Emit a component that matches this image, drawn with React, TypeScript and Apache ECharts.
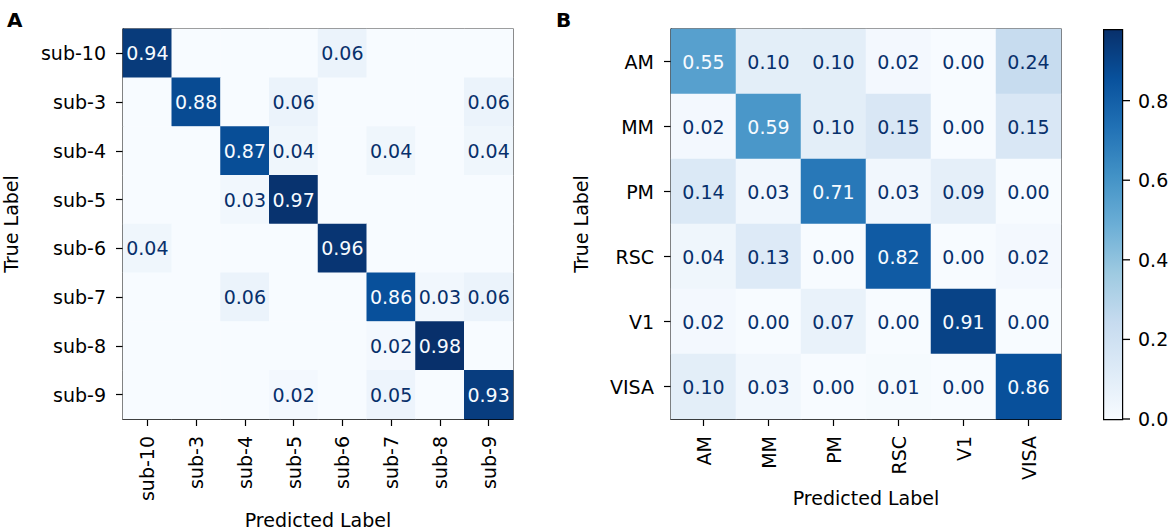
import React, { useEffect, useRef } from "react";
import * as echarts from "echarts";

const catsA = ["sub-10", "sub-3", "sub-4", "sub-5", "sub-6", "sub-7", "sub-8", "sub-9"];
const matA = [
  [0.94, 0, 0, 0, 0.06, 0, 0, 0],
  [0, 0.88, 0, 0.06, 0, 0, 0, 0.06],
  [0, 0, 0.87, 0.04, 0, 0.04, 0, 0.04],
  [0, 0, 0.03, 0.97, 0, 0, 0, 0],
  [0.04, 0, 0, 0, 0.96, 0, 0, 0],
  [0, 0, 0.06, 0, 0, 0.86, 0.03, 0.06],
  [0, 0, 0, 0, 0, 0.02, 0.98, 0],
  [0, 0, 0, 0.02, 0, 0.05, 0, 0.93],
];
const catsB = ["AM", "MM", "PM", "RSC", "V1", "VISA"];
const matB = [
  [0.55, 0.1, 0.1, 0.02, 0.0, 0.24],
  [0.02, 0.59, 0.1, 0.15, 0.0, 0.15],
  [0.14, 0.03, 0.71, 0.03, 0.09, 0.0],
  [0.04, 0.13, 0.0, 0.82, 0.0, 0.02],
  [0.02, 0.0, 0.07, 0.0, 0.91, 0.0],
  [0.1, 0.03, 0.0, 0.01, 0.0, 0.86],
];
const cbarTicks = [0, 0.2, 0.4, 0.6, 0.8];
const vMin = 0;
const vMax = 0.98;

const BLUES = ["#f7fbff", "#deebf7", "#c6dbef", "#9ecae1", "#6baed6", "#4292c6", "#2171b5", "#08519c", "#08306b"];
const FONT = "DejaVu Sans";
const FS = 19;

function buildData(mat: number[][], hideZero: boolean) {
  const out: any[] = [];
  const thresh = (vMin + vMax) / 2;
  mat.forEach((row, r) =>
    row.forEach((v, c) => {
      out.push({
        value: [c, r, v],
        label: {
          show: !(hideZero && v === 0),
          color: v > thresh ? BLUES[0] : BLUES[8],
        },
      });
    })
  );
  return out;
}

export default function App() {
  const ref = useRef<HTMLDivElement>(null);
  useEffect(() => {
    document.body.style.margin = "0";
    const chart = echarts.init(ref.current!, null, { renderer: "svg" });
    const axisCommonX = (cats: string[], grid: number, gap: number) => ({
      type: "category",
      gridIndex: grid,
      data: cats,
      position: "bottom",
      name: "Predicted Label",
      nameLocation: "middle",
      nameGap: gap,
      nameTextStyle: { fontFamily: FONT, fontSize: FS, color: "#000" },
      axisLine: { show: true, lineStyle: { color: "#000", width: 1.2 } },
      axisTick: { show: true, alignWithLabel: true, length: 7, lineStyle: { color: "#000", width: 1.2 } },
      axisLabel: { rotate: 90, margin: 17, fontFamily: FONT, fontSize: FS, color: "#000", interval: 0 },
      splitLine: { show: false },
      splitArea: { show: false },
    });
    const axisCommonY = (cats: string[], grid: number, gap: number) => ({
      type: "category",
      gridIndex: grid,
      data: cats,
      inverse: true,
      name: "True Label",
      nameLocation: "middle",
      nameGap: gap,
      nameRotate: 90,
      nameTextStyle: { fontFamily: FONT, fontSize: FS, color: "#000" },
      axisLine: { show: true, lineStyle: { color: "#000", width: 1.2 } },
      axisTick: { show: true, alignWithLabel: true, length: 7, lineStyle: { color: "#000", width: 1.2 } },
      axisLabel: { margin: 17, fontFamily: FONT, fontSize: FS, color: "#000", interval: 0 },
      splitLine: { show: false },
      splitArea: { show: false },
    });
    const labelStyle = {
      fontFamily: FONT,
      fontSize: FS,
      formatter: (p: any) => p.value[2].toFixed(2),
    };
    const stops = BLUES.map((c, i) => ({ offset: i / (BLUES.length - 1), color: BLUES[BLUES.length - 1 - i] }));
    const gridCommon = { show: true, borderColor: "#000", borderWidth: 1.2, backgroundColor: "transparent", outerBoundsMode: "none", containLabel: false };
    const baseGraphic: any[] = [
      {
        type: "rect",
        left: 1103,
        top: 29,
        shape: { width: 19, height: 390 },
        style: {
          fill: { type: "linear", x: 0, y: 0, x2: 0, y2: 1, colorStops: stops },
          stroke: "#000",
          lineWidth: 1.2,
        },
        z: 1,
      },
      { type: "text", left: 7, top: 10, style: { text: "A", font: `bold 20px "${FONT}"`, fill: "#000" } },
      { type: "text", left: 556, top: 10, style: { text: "B", font: `bold 20px "${FONT}"`, fill: "#000" } },
    ];
    chart.setOption({
      animation: false,
      backgroundColor: "#fff",
      grid: [
        { left: 123, top: 29, width: 390, height: 390, ...gridCommon },
        { left: 671, top: 29, width: 390, height: 390, ...gridCommon },
        { left: 1103, top: 29, width: 19, height: 390, show: false, outerBoundsMode: "none", containLabel: false },
      ],
      xAxis: [
        axisCommonX(catsA, 0, 91),
        axisCommonX(catsB, 1, 69),
        { type: "value", gridIndex: 2, show: false, min: 0, max: 1 },
      ],
      yAxis: [
        axisCommonY(catsA, 0, 103),
        axisCommonY(catsB, 1, 81),
        {
          type: "value",
          gridIndex: 2,
          position: "right",
          min: vMin,
          max: vMax,
          axisLine: { show: false, onZero: false },
          axisTick: { show: false },
          axisLabel: {
            customValues: cbarTicks,
            margin: 16,
            fontFamily: FONT,
            fontSize: FS,
            color: "#000",
            formatter: (v: number) => v.toFixed(1),
          },
          splitLine: { show: false },
        },
      ],
      visualMap: [
        { type: "continuous", show: false, min: vMin, max: vMax, dimension: 2, seriesIndex: [0, 1], inRange: { color: BLUES } },
      ],
      graphic: baseGraphic,
      series: [
        {
          type: "heatmap",
          xAxisIndex: 0,
          yAxisIndex: 0,
          data: buildData(matA, true),
          label: { show: true, ...labelStyle },
          itemStyle: { borderWidth: 0 },
          emphasis: { disabled: true },
        },
        {
          type: "heatmap",
          xAxisIndex: 1,
          yAxisIndex: 1,
          data: buildData(matB, false),
          label: { show: true, ...labelStyle },
          itemStyle: { borderWidth: 0 },
          emphasis: { disabled: true },
        },
      ],
    });
    // colorbar tick marks, placed through the colorbar axis scale
    const xRight = chart.convertToPixel({ xAxisIndex: 2 } as any, 1) as number;
    const tickLines = cbarTicks.map((v) => {
      const y = chart.convertToPixel({ yAxisIndex: 2 } as any, v) as number;
      return {
        type: "line",
        shape: { x1: xRight, y1: y, x2: xRight + 8, y2: y },
        style: { stroke: "#000", lineWidth: 1.3 },
        z: 30,
      };
    });
    chart.setOption({ graphic: [...baseGraphic, ...tickLines] });
    return () => chart.dispose();
  }, []);
  return <div ref={ref} style={{ width: 1172, height: 529 }} />;
}
